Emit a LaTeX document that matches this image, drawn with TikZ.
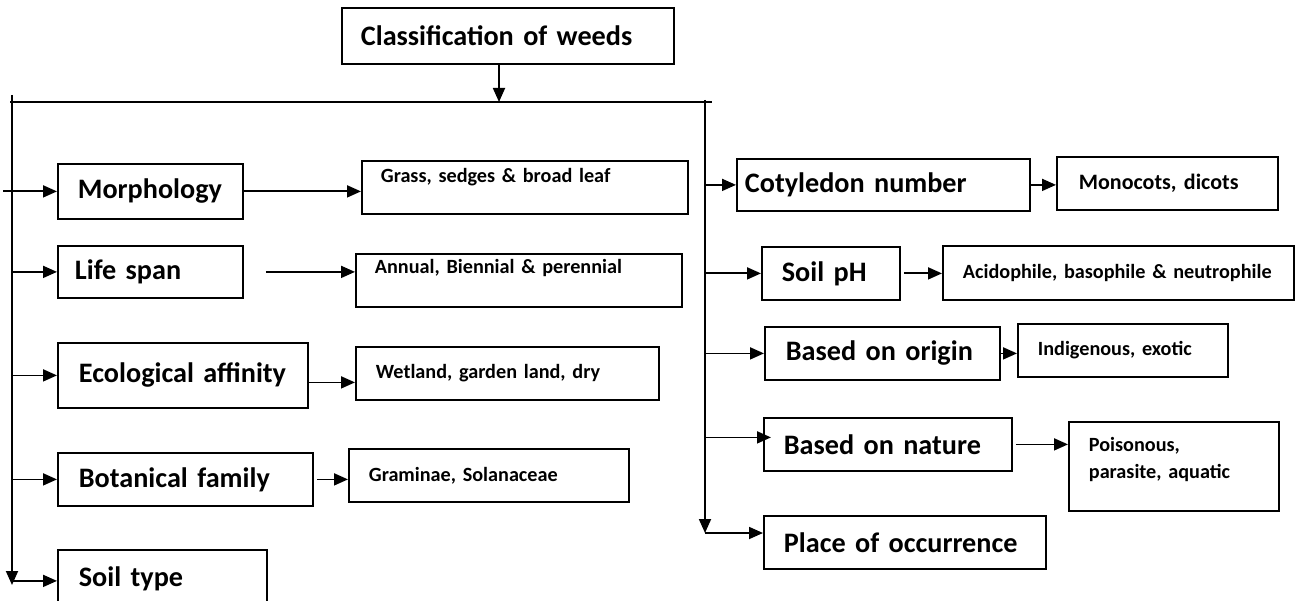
\documentclass[tikz,border=0pt]{standalone}
\usepackage{fontspec}
\setmainfont{Carlito}
\usetikzlibrary{arrows.meta}
\begin{document}
\begin{tikzpicture}[x=1pt,y=-1pt,
  bx/.style={draw, line width=1.8pt, anchor=north west, align=left, inner ysep=0pt,
    font=\bfseries\fontsize{20.2}{27}\selectfont},
  mainbx/.style={bx, font=\bfseries\fontsize{28.2}{34}\selectfont},
  arr/.style={-{Triangle[length=14pt,width=12pt]}, line width=1.8pt},
  ln/.style={line width=1.8pt}]
\clip (0,0) rectangle (1295,601);

% root
\node[mainbx, text width=294pt, inner xsep=19pt, minimum height=56pt] (root) at (341,7) {\mbox{Classification of weeds}};

% trunk lines
\coordinate (hl) at (10,102);
\coordinate (hr) at (712,102);
\coordinate (join) at (499,102);
\coordinate (tl0) at (12,95);
\coordinate (tl1) at (12,585);
\coordinate (tr0) at (705,100);
\coordinate (tr1) at (705,533);
\draw[ln] (hl) -- (hr);
\draw[arr] (root.south -| join) -- (join);
\draw[arr] (tl0) -- (tl1);
\draw[arr] (tr0) -- (tr1);

% left column
\node[mainbx, text width=145pt, inner xsep=20pt, minimum height=55pt] (morph) at (57,163) {\mbox{Morphology}};
\node[mainbx, text width=151pt, inner xsep=17pt, minimum height=52pt] (life) at (57,245) {\mbox{Life span}};
\node[mainbx, text width=208pt, inner xsep=21pt, minimum height=65pt] (eco) at (57,342) {\mbox{Ecological affinity}};
\node[mainbx, text width=213pt, inner xsep=21pt, minimum height=53pt] (bot) at (57,452) {\mbox{Botanical family}};
\node[mainbx, text width=167pt, inner xsep=21pt, minimum height=58pt] (soiltype) at (57,549) {\mbox{Soil type}};

\node[bx, text width=288pt, inner xsep=19pt, minimum height=53pt, text depth=23pt] (grass) at (361,160) {\mbox{Grass, sedges \& broad leaf}};
\node[bx, text width=288pt, inner xsep=19pt, minimum height=53pt, text depth=27pt] (annual) at (355,253) {\mbox{Annual, Biennial \& perennial}};
\node[bx, text width=263pt, inner xsep=20pt, minimum height=53pt] (wet) at (355,346) {\mbox{Wetland, garden land, dry}};
\node[bx, text width=240pt, inner xsep=20pt, minimum height=53pt] (gram) at (348,448) {\mbox{Graminae, Solanaceae}};

% right column
\node[mainbx, text width=277pt, inner xsep=8pt, minimum height=52pt] (cot) at (736,158) {\mbox{Cotyledon number}};
\node[mainbx, text width=98pt, inner xsep=20pt, minimum height=53pt] (ph) at (761,246) {\mbox{Soil pH}};
\node[mainbx, text width=193pt, inner xsep=21pt, minimum height=53pt] (origin) at (764,326) {\mbox{Based on origin}};
\node[mainbx, text width=208pt, inner xsep=20pt, minimum height=53pt] (nature) at (763,417) {\mbox{Based on nature}};
\node[mainbx, text width=242pt, inner xsep=20pt, minimum height=53pt] (place) at (763,515) {\mbox{Place of occurrence}};

\node[bx, text width=177pt, inner xsep=22pt, minimum height=53pt,
  font=\bfseries\fontsize{22}{27}\selectfont] (mono) at (1056,156) {\mbox{Monocots, dicots}};
\node[bx, text width=311pt, inner xsep=20pt, minimum height=54pt] (acid) at (942,245) {\mbox{Acidophile, basophile \& neutrophile}};
\node[bx, text width=170pt, inner xsep=20pt, minimum height=53pt] (indig) at (1017,323) {\mbox{Indigenous, exotic}};
\node[bx, text width=170pt, inner xsep=20pt, minimum height=89pt, text depth=43pt] (poison) at (1068,421) {Poisonous,\\parasite, aquatic};

% branches from the left trunk
\draw[arr] ([xshift=-9pt]tl0 |- morph.west) -- (morph.west);
\draw[arr] (tl0 |- life.west) -- (life.west);
\draw[arr] (tl0 |- eco.west) -- (eco.west);
\draw[arr] (tl0 |- bot.west) -- (bot.west);
\draw[arr] ([yshift=-2pt]tl0 |- soiltype.west) -- ([yshift=-2pt]soiltype.west);

% branches from the right trunk
\draw[arr] (tr0 |- cot.west) -- (cot.west);
\draw[arr] (tr0 |- ph.west) -- (ph.west);
\draw[arr] (tr0 |- origin.west) -- (origin.west);
\draw[arr] ([yshift=7pt]tr0 |- nature.west) -- ([yshift=7pt,xshift=8pt]nature.west);
\draw[arr] (tr1) -- (place.west |- tr1);

% category to examples
\draw[arr] (morph.east) -- (morph.east -| grass.west);
\draw[arr] ([xshift=22pt]life.east) -- (life.east -| annual.west);
\draw[arr] ([yshift=-7pt]eco.east) -- ([yshift=-7pt]eco.east -| wet.west);
\draw[arr] ([xshift=3pt]bot.east) -- (bot.east -| gram.west);
\draw[arr] (cot.east) -- (cot.east -| mono.west);
\draw[arr] ([xshift=3pt]ph.east) -- (ph.east -| acid.west);
\draw[arr] (origin.east) -- (origin.east -| indig.west);
\draw[arr] ([xshift=3pt]nature.east) -- (nature.east -| poison.west);
\end{tikzpicture}
\end{document}
